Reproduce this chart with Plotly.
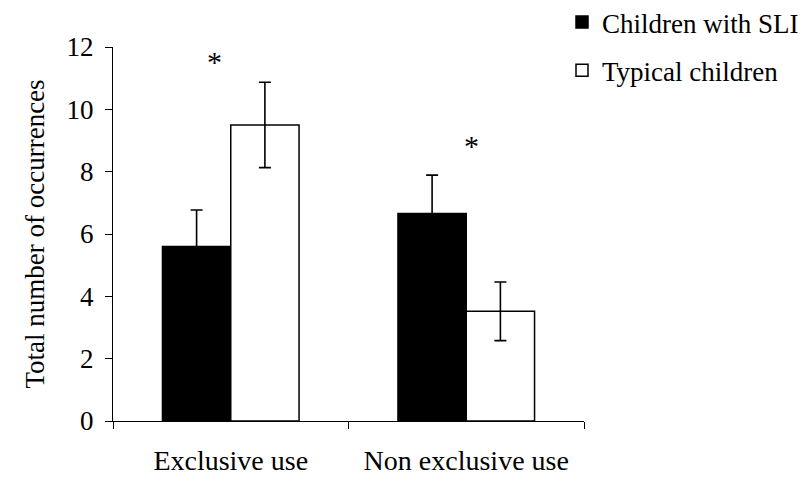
import plotly.graph_objects as go

categories = ["Exclusive use", "Non exclusive use"]
sli_values = [5.6, 6.66]
sli_errors = [1.17, 1.23]
typical_values = [9.5, 3.52]
typical_errors = [1.37, 0.94]
series_names = ["Children with SLI", "Typical children"]
y_ticks = [0, 2, 4, 6, 8, 10, 12]
star_y = [11.55, 8.85]
star_shift = [-16, 5]

FONT = "'Liberation Serif', 'Times New Roman', serif"

fig = go.Figure()
fig.add_trace(go.Bar(
    x=categories, y=sli_values, name=series_names[0], legendgroup="a",
    marker=dict(color="black", line=dict(color="black", width=1.5)),
    error_y=dict(type="data", array=sli_errors, visible=True,
                 color="black", thickness=1.6, width=6),
))
fig.add_trace(go.Bar(
    x=categories, y=typical_values, name=series_names[1], legendgroup="b",
    marker=dict(color="white", line=dict(color="black", width=1.5)),
    error_y=dict(type="data", array=typical_errors, visible=True,
                 color="black", thickness=1.6, width=6),
))

for cat, sy, sh in zip(categories, star_y, star_shift):
    fig.add_annotation(x=cat, y=sy, text="*", showarrow=False, xshift=sh,
                       font=dict(family=FONT, size=30, color="black"),
                       yanchor="middle")

W, H = 802, 478
L, T = 105, 39
R = W - 576
B = H - 413
PW, PH = W - L - R, H - T - B

fig.update_layout(
    width=W, height=H,
    margin=dict(l=L, r=R, t=T, b=B, autoexpand=False),
    paper_bgcolor="white", plot_bgcolor="white",
    font=dict(family=FONT, size=27, color="black"),
    barmode="group", bargap=0.42, bargroupgap=0,
    showlegend=True,
    legend=dict(x=(554 - L) / PW, y=(PH + T + 10) / PH,
                xanchor="left", yanchor="top", traceorder="grouped",
                font=dict(family=FONT, size=27, color="black"),
                bgcolor="rgba(0,0,0,0)", tracegroupgap=10),
    xaxis=dict(range=[-0.5, 1.5], showline=True, linecolor="black", linewidth=1.2,
               ticks="outside", tickson="boundaries", ticklen=7, tickcolor="black",
               showgrid=False, zeroline=False, ticklabelstandoff=14, automargin=False,
               tickfont=dict(family=FONT, size=28)),
    yaxis=dict(range=[0, 12], tickvals=y_ticks, showline=True, linecolor="black",
               linewidth=1.2, ticks="outside", ticklen=7, tickcolor="black",
               showgrid=False, zeroline=False, automargin=False,
               title=dict(text="Total number of occurrences", standoff=14,
                          font=dict(family=FONT, size=27)),
               ticklabelstandoff=6),
)

fig.write_html("out.html")
